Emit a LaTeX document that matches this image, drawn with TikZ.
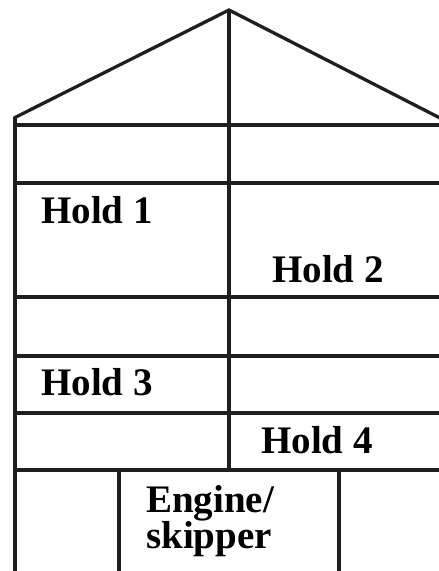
\documentclass[tikz,border=0pt]{standalone}
\usepackage{fontspec}
\setmainfont{Liberation Serif}
\usepackage{xcolor}
\usepackage{tikz}

\begin{document}
\begin{tikzpicture}[x=1pt, y=-1pt,
                        wall/.style={line width=3.8pt, color=black!88},
                        roof/.style={line width=3.3pt, color=black!88, line join=miter},
                        hold/.style={anchor=base west, inner sep=0pt, font=\fontsize{39}{42}\selectfont\bfseries}]
                        \useasboundingbox (0,0) rectangle (439,571);

                        \coordinate (Apex) at (229, 10);
                        \coordinate (EaveL) at (14, 118);
                        \coordinate (EaveR) at (442, 119);
                        \coordinate (Keel) at (229, 470);

                        \draw[roof] (EaveL) -- (Apex) -- (EaveR);
                        \draw[wall] (15, 117) -- (15, 573);
                        \draw[wall] (Apex) -- (Keel);

                        \foreach \y in {125, 183, 297, 356, 413, 470}
                            \draw[wall] (13, \y) -- (441, \y);

                        \draw[wall] (119, 470) -- (119, 573);
                        \draw[wall] (339, 470) -- (339, 573);

                        \node[hold] (H1) at (41, 223){Hold 1};
                        \node[hold] (H2) at (272, 282){Hold 2};
                        \node[hold] (H3) at (41, 395){Hold 3};
                        \node[hold] (H4) at (261, 453){Hold 4};
                        \node[hold] (E1) at (146, 512){Engine/};
                        \node[hold] (E2) at (146, 548){skipper};
                    \end{tikzpicture}
\end{document}
